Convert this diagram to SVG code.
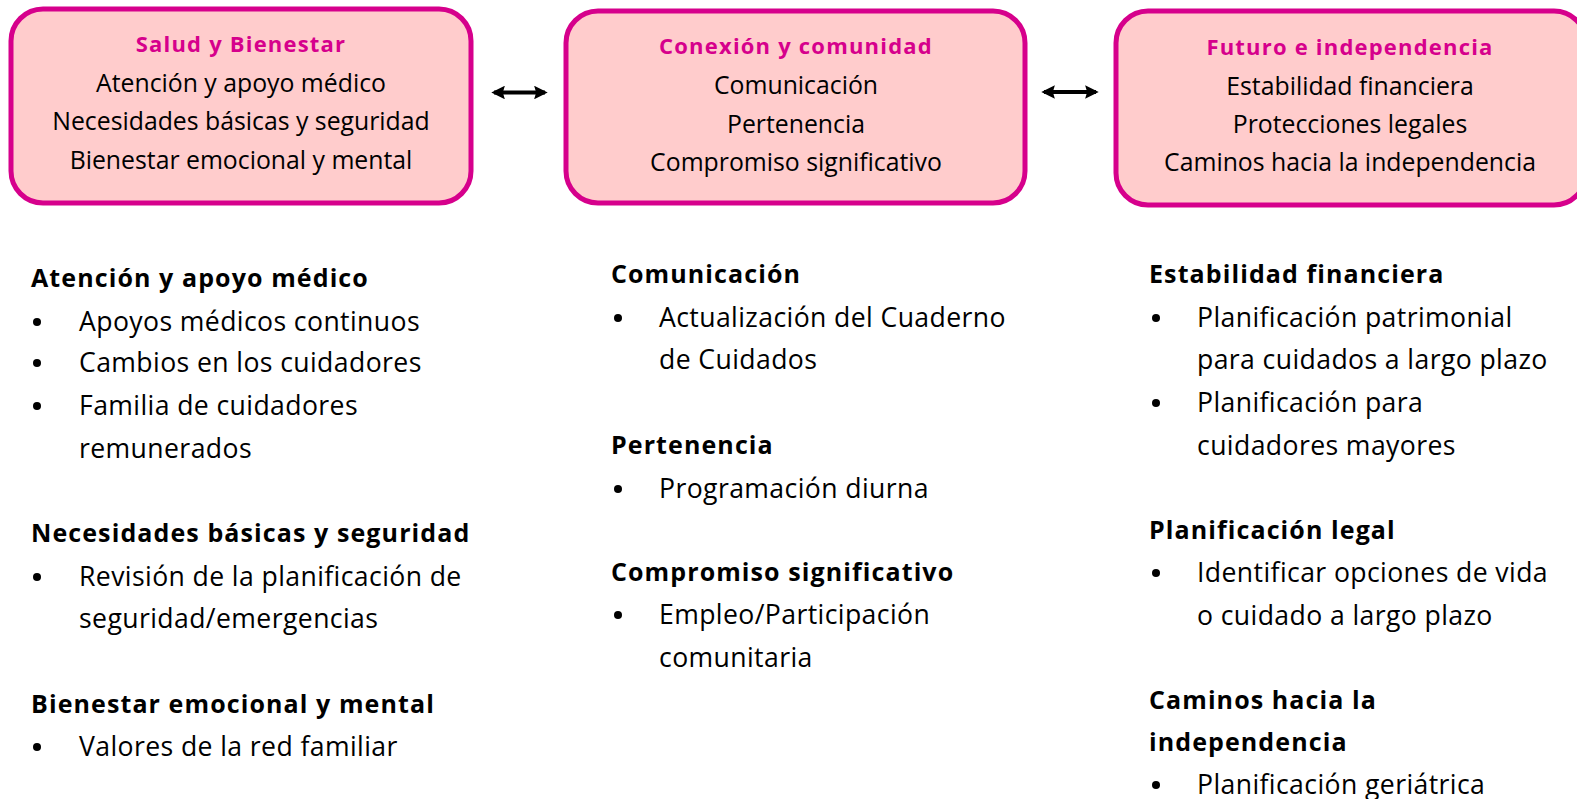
<svg xmlns="http://www.w3.org/2000/svg" width="1577" height="799" viewBox="0 0 1577 799">
<style>
.box{fill:#FFCCCC;stroke:#D6008C;stroke-width:5}
.t{font-family:"Open Sans","Liberation Sans",sans-serif;font-size:24.8px;fill:#000}
.l{font-family:"Open Sans","Liberation Sans",sans-serif;font-size:26.6px;letter-spacing:0.4px;fill:#000}
.tt{font-family:"Open Sans","Liberation Sans",sans-serif;font-size:22px;font-weight:bold;letter-spacing:1.2px;fill:#D6008C}
.c{text-anchor:middle}
.h{font-family:"Open Sans","Liberation Sans",sans-serif;font-size:25px;font-weight:bold;letter-spacing:1.1px;fill:#000}
.conn{stroke:#000;stroke-width:4;fill:none}
</style>
<defs>
<marker id="ah" viewBox="0 0 10 10" refX="8" refY="5" markerWidth="3.4" markerHeight="3.4" orient="auto-start-reverse" markerUnits="strokeWidth">
<path d="M0,0 L10,5 L0,10 L1.5,5 z" fill="#000"/>
</marker>
</defs>
<rect width="1577" height="799" fill="#fff"/>
<g id="node-salud">
<rect class="box" x="11" y="9" width="460" height="194" rx="32"/>
<text class="tt c" x="241" y="52">Salud y Bienestar</text>
<text class="t c" x="241" y="92">Atención y apoyo médico</text>
<text class="t c" x="241" y="130">Necesidades básicas y seguridad</text>
<text class="t c" x="241" y="169">Bienestar emocional y mental</text>
</g>
<g id="node-conexion">
<rect class="box" x="566" y="11" width="459" height="192" rx="32"/>
<text class="tt c" x="796" y="54">Conexión y comunidad</text>
<text class="t c" x="796" y="94">Comunicación</text>
<text class="t c" x="796" y="133">Pertenencia</text>
<text class="t c" x="796" y="171">Compromiso significativo</text>
</g>
<g id="node-futuro">
<rect class="box" x="1116" y="11" width="470" height="194" rx="32"/>
<text class="tt c" x="1350" y="55">Futuro e independencia</text>
<text class="t c" x="1350" y="95">Estabilidad financiera</text>
<text class="t c" x="1350" y="133">Protecciones legales</text>
<text class="t c" x="1350" y="171">Caminos hacia la independencia</text>
</g>
<g id="connectors">
<line class="conn" x1="494" y1="92.5" x2="545" y2="92.5" marker-start="url(#ah)" marker-end="url(#ah)"/>
<line class="conn" x1="1044" y1="92" x2="1096" y2="92" marker-start="url(#ah)" marker-end="url(#ah)"/>
</g>
<g id="list-left">
<text class="h" x="31" y="287">Atención y apoyo médico</text>
<circle cx="37" cy="322" r="4"/><text class="l" x="79" y="331">Apoyos médicos continuos</text>
<circle cx="37" cy="363" r="4"/><text class="l" x="79" y="372">Cambios en los cuidadores</text>
<circle cx="37" cy="406" r="4"/><text class="l" x="79" y="415">Familia de cuidadores</text>
<text class="l" x="79" y="458">remunerados</text>
<text class="h" x="31" y="542">Necesidades básicas y seguridad</text>
<circle cx="37" cy="577" r="4"/><text class="l" x="79" y="586">Revisión de la planificación de</text>
<text class="l" x="79" y="628">seguridad/emergencias</text>
<text class="h" x="31" y="713">Bienestar emocional y mental</text>
<circle cx="37" cy="747" r="4"/><text class="l" x="79" y="756">Valores de la red familiar</text>
</g>
<g id="list-middle">
<text class="h" x="611" y="283">Comunicación</text>
<circle cx="618" cy="318" r="4"/><text class="l" x="659" y="327">Actualización del Cuaderno</text>
<text class="l" x="659" y="369">de Cuidados</text>
<text class="h" x="611" y="454">Pertenencia</text>
<circle cx="618" cy="489" r="4"/><text class="l" x="659" y="498">Programación diurna</text>
<text class="h" x="611" y="581">Compromiso significativo</text>
<circle cx="618" cy="615" r="4"/><text class="l" x="659" y="624">Empleo/Participación</text>
<text class="l" x="659" y="667">comunitaria</text>
</g>
<g id="list-right">
<text class="h" x="1149" y="283">Estabilidad financiera</text>
<circle cx="1156" cy="318" r="4"/><text class="l" x="1197" y="327">Planificación patrimonial</text>
<text class="l" x="1197" y="369">para cuidados a largo plazo</text>
<circle cx="1156" cy="403" r="4"/><text class="l" x="1197" y="412">Planificación para</text>
<text class="l" x="1197" y="455">cuidadores mayores</text>
<text class="h" x="1149" y="539">Planificación legal</text>
<circle cx="1156" cy="573" r="4"/><text class="l" x="1197" y="582">Identificar opciones de vida</text>
<text class="l" x="1197" y="625">o cuidado a largo plazo</text>
<text class="h" x="1149" y="709">Caminos hacia la</text>
<text class="h" x="1149" y="751">independencia</text>
<circle cx="1156" cy="785" r="4"/><text class="l" x="1197" y="794">Planificación geriátrica</text>
</g>
</svg>
